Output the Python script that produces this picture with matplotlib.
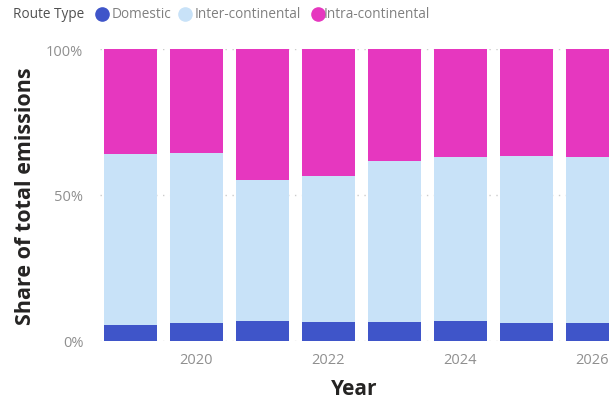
import matplotlib
matplotlib.use("Agg")
import matplotlib.pyplot as plt
from matplotlib.lines import Line2D
from matplotlib.ticker import FuncFormatter
import numpy as np

years = [2019, 2020, 2021, 2022, 2023, 2024, 2025, 2026]
domestic = [5.3, 6.0, 6.7, 6.4, 6.4, 6.7, 6.0, 6.0]
inter_continental = [58.7, 58.4, 48.4, 50.1, 55.2, 56.3, 57.4, 57.0]
intra_continental = [36.0, 35.6, 44.9, 43.5, 38.4, 37.0, 36.6, 37.0]
series_names = ["Domestic", "Inter-continental", "Intra-continental"]
colors = ["#3F55C9", "#C8E2F8", "#E637BF"]
xticks = [2020, 2022, 2024, 2026]

plt.rcParams['font.family'] = ['Open Sans', 'DejaVu Sans']

W, H = 609, 402
fig = plt.figure(figsize=(W / 100, H / 100), dpi=100)
ax = fig.add_axes([100 / W, (H - 341.5) / H, (W - 100) / W, 291.2 / H])

data = np.array([domestic, inter_continental, intra_continental])
totals = data.sum(axis=0)
shares = data / totals
bottom = np.zeros(len(years))
for vals, c in zip(shares, colors):
    ax.bar(years, vals, bottom=bottom, width=0.8, color=c, linewidth=0, zorder=2)
    bottom += vals

ax.set_xlim(2018.54, 2026.25)
ax.set_ylim(0, 1)
ax.set_yticks([0, 0.5, 1.0])
ax.yaxis.set_major_formatter(FuncFormatter(lambda v, p: f"{int(round(v * 100))}%"))
ax.set_xticks(xticks)
ax.grid(axis='y', linestyle=(0, (1, 4)), color='#CCCCCC', linewidth=1, zorder=0)
for s in ax.spines.values():
    s.set_visible(False)
ax.tick_params(axis='both', length=0, labelsize=10.5, labelcolor='#8F8F8F')
ax.tick_params(axis='y', pad=12)
ax.tick_params(axis='x', pad=8)
ax.set_ylabel("Share of total emissions", fontsize=15.5, fontweight='bold', color='#252423', labelpad=7)
ax.set_xlabel("Year", fontsize=15, fontweight='bold', color='#252423', labelpad=8.5)

# Legend
def px(x, y):
    return x / W, 1 - y / H

fig.text(*px(13, 15), "Route Type", fontsize=9.8, color='#505050', va='center', ha='left')
legend_items = [(102, 112), (185, 195), (318, 324)]
for (cx, tx), name, c in zip(legend_items, series_names, colors):
    fig.add_artist(Line2D([cx / W], [1 - 15 / H], marker='o', markersize=9.5, color=c,
                          linestyle='None', transform=fig.transFigure))
    fig.text(*px(tx, 15), name, fontsize=9.8, color='#808080', va='center', ha='left')

fig.savefig("out.png", dpi=100)
